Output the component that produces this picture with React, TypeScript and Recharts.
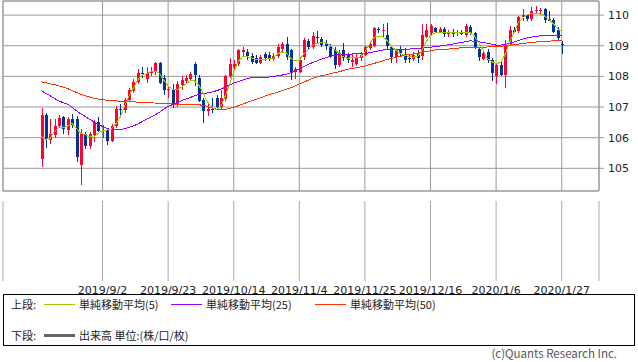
import React from "react";
import { Bar, CartesianGrid, ComposedChart, Line, ReferenceArea, XAxis, YAxis } from "recharts";

// trading days (forex, weekdays)
const dates = [
  "2019/8/13", "2019/8/14", "2019/8/15", "2019/8/16", "2019/8/19", "2019/8/20", "2019/8/21", "2019/8/22", "2019/8/23",
  "2019/8/26", "2019/8/27", "2019/8/28", "2019/8/29", "2019/8/30",
  "2019/9/2", "2019/9/3", "2019/9/4", "2019/9/5", "2019/9/6", "2019/9/9", "2019/9/10", "2019/9/11", "2019/9/12", "2019/9/13",
  "2019/9/16", "2019/9/17", "2019/9/18", "2019/9/19", "2019/9/20", "2019/9/23", "2019/9/24", "2019/9/25", "2019/9/26", "2019/9/27",
  "2019/9/30", "2019/10/1", "2019/10/2", "2019/10/3", "2019/10/4", "2019/10/7", "2019/10/8", "2019/10/9", "2019/10/10", "2019/10/11",
  "2019/10/14", "2019/10/15", "2019/10/16", "2019/10/17", "2019/10/18", "2019/10/21", "2019/10/22", "2019/10/23", "2019/10/24", "2019/10/25",
  "2019/10/28", "2019/10/29", "2019/10/30", "2019/10/31", "2019/11/1", "2019/11/4", "2019/11/5", "2019/11/6", "2019/11/7", "2019/11/8",
  "2019/11/11", "2019/11/12", "2019/11/13", "2019/11/14", "2019/11/15", "2019/11/18", "2019/11/19", "2019/11/20", "2019/11/21", "2019/11/22",
  "2019/11/25", "2019/11/26", "2019/11/27", "2019/11/28", "2019/11/29", "2019/12/2", "2019/12/3", "2019/12/4", "2019/12/5", "2019/12/6",
  "2019/12/9", "2019/12/10", "2019/12/11", "2019/12/12", "2019/12/13", "2019/12/16", "2019/12/17", "2019/12/18", "2019/12/19", "2019/12/20",
  "2019/12/23", "2019/12/24", "2019/12/25", "2019/12/26", "2019/12/27", "2019/12/30", "2019/12/31", "2020/1/1", "2020/1/2", "2020/1/3",
  "2020/1/6", "2020/1/7", "2020/1/8", "2020/1/9", "2020/1/10", "2020/1/13", "2020/1/14", "2020/1/15", "2020/1/16", "2020/1/17",
  "2020/1/20", "2020/1/21", "2020/1/22", "2020/1/23", "2020/1/24", "2020/1/27",
];

const opens = [
  105.3, 106.75, 105.93, 106.1, 106.37, 106.66, 106.25, 106.62, 106.6, 105.12,
  106.12, 105.74, 106.1, 106.52, 106.22, 106.25, 105.88, 106.38, 106.95, 106.9,
  107.22, 107.52, 107.82, 108.12, 107.9, 108.12, 108.15, 108.45, 107.95, 107.55,
  107.58, 107.08, 107.72, 107.85, 107.9, 108.42, 107.95, 107.22, 106.88, 106.95,
  107.28, 107.0, 107.25, 108.0, 108.3, 108.42, 108.8, 108.78, 108.66, 108.6,
  108.45, 108.72, 108.7, 108.56, 108.66, 108.88, 109.05, 108.85, 108.15, 108.15,
  108.62, 109.15, 108.97, 109.3, 109.22, 109.05, 108.97, 108.86, 108.37, 108.86,
  108.7, 108.48, 108.42, 108.6, 108.7, 108.92, 108.98, 109.55, 109.48, 109.36,
  108.97, 108.62, 108.9, 108.7, 108.6, 108.58, 108.77, 108.65, 109.3, 109.4,
  109.57, 109.46, 109.55, 109.38, 109.42, 109.4, 109.45, 109.35, 109.62, 109.4,
  108.88, 108.58, 108.8, 108.55, 108.0, 108.38, 108.05, 109.05, 109.52, 109.48,
  109.95, 110.0, 109.88, 110.12, 110.15, 110.2, 109.88, 109.85, 109.52, 109.05,
];

const highs = [
  106.98, 106.8, 106.6, 106.62, 106.74, 106.72, 106.68, 106.76, 106.72, 106.28,
  106.2, 106.18, 106.58, 106.68, 106.42, 106.3, 106.45, 107.05, 107.1, 107.3,
  107.62, 107.9, 108.25, 108.3, 108.3, 108.3, 108.48, 108.48, 108.05, 107.7,
  107.75, 107.85, 108.0, 108.05, 108.15, 108.48, 108.05, 107.3, 107.1, 107.3,
  107.4, 107.55, 108.05, 108.6, 108.55, 108.9, 108.95, 108.88, 108.75, 108.7,
  108.7, 108.8, 108.8, 108.75, 109.05, 109.12, 109.3, 108.9, 108.32, 108.62,
  109.24, 109.22, 109.45, 109.48, 109.3, 109.2, 109.05, 108.95, 108.85, 109.1,
  108.75, 108.75, 108.72, 108.78, 109.0, 109.15, 109.62, 109.62, 109.7, 109.73,
  109.0, 108.9, 108.98, 108.92, 108.7, 108.8, 108.85, 109.72, 109.72, 109.72,
  109.62, 109.62, 109.6, 109.52, 109.55, 109.5, 109.5, 109.7, 109.68, 109.45,
  108.95, 108.8, 108.88, 108.6, 108.4, 108.55, 109.2, 109.65, 109.6, 109.98,
  110.2, 110.05, 110.25, 110.3, 110.22, 110.22, 110.12, 109.9, 109.6, 109.15,
];

const lows = [
  105.05, 105.65, 105.78, 105.98, 106.3, 106.12, 106.1, 106.3, 105.2, 104.45,
  105.62, 105.62, 105.85, 106.18, 106.0, 105.75, 105.85, 106.3, 106.75, 106.8,
  107.15, 107.45, 107.75, 107.95, 107.8, 108.0, 108.05, 107.75, 107.4, 107.3,
  106.98, 107.0, 107.55, 107.8, 107.85, 107.7, 107.15, 106.48, 106.7, 106.8,
  106.95, 106.9, 107.2, 107.95, 108.2, 108.35, 108.62, 108.55, 108.4, 108.4,
  108.4, 108.5, 108.5, 108.5, 108.6, 108.8, 108.55, 107.88, 107.9, 108.1,
  108.55, 108.85, 108.9, 109.1, 108.95, 108.85, 108.6, 108.25, 108.3, 108.5,
  108.45, 108.3, 108.35, 108.5, 108.65, 108.85, 108.95, 109.4, 109.27, 108.9,
  108.45, 108.45, 108.65, 108.45, 108.45, 108.5, 108.45, 108.55, 109.25, 109.35,
  109.42, 109.4, 109.3, 109.3, 109.3, 109.32, 109.35, 109.3, 109.35, 108.9,
  108.5, 108.55, 108.45, 107.85, 107.75, 108.0, 107.62, 109.0, 109.4, 109.4,
  109.8, 109.8, 109.8, 110.05, 110.05, 109.75, 109.8, 109.4, 109.15, 108.72,
];

const closes = [
  106.74, 105.97, 106.12, 106.38, 106.65, 106.28, 106.62, 106.42, 105.38, 106.15,
  105.72, 106.12, 106.52, 106.22, 106.25, 105.9, 106.38, 106.95, 106.9, 107.22,
  107.55, 107.82, 108.1, 108.08, 108.12, 108.15, 108.45, 107.8, 107.55, 107.58,
  107.08, 107.75, 107.88, 107.95, 108.08, 108.05, 107.2, 106.88, 106.95, 106.9,
  107.0, 107.3, 108.0, 108.42, 108.4, 108.86, 108.85, 108.66, 108.48, 108.45,
  108.62, 108.6, 108.56, 108.68, 108.96, 109.05, 108.62, 108.15, 108.25, 108.55,
  109.18, 108.97, 109.32, 109.25, 109.02, 108.98, 108.66, 108.37, 108.76, 108.59,
  108.53, 108.55, 108.64, 108.7, 108.95, 109.06, 109.58, 109.5, 109.52, 109.0,
  108.62, 108.86, 108.75, 108.55, 108.58, 108.7, 108.59, 109.35, 109.5, 109.65,
  109.46, 109.55, 109.38, 109.45, 109.4, 109.45, 109.38, 109.65, 109.4, 108.97,
  108.62, 108.77, 108.55, 108.1, 108.36, 108.05, 109.05, 109.52, 109.46, 109.95,
  110.0, 109.88, 110.15, 110.17, 110.18, 109.85, 109.82, 109.46, 109.26, 109.03,
];

// moving averages as drawn
const ma5 = [
  106.03, 105.95, 105.98, 106.2, 106.34, 106.32, 106.38, 106.47, 106.31, 106.14,
  106.1, 106.03, 106.02, 106.14, 106.23, 106.25, 106.28, 106.45, 106.66, 107.01,
  107.34, 107.61, 107.88, 108.04, 108.08, 108.15, 108.17, 108.1, 107.88, 107.68,
  107.58, 107.57, 107.64, 107.75, 107.85, 107.86, 107.72, 107.45, 107.17, 106.99,
  106.92, 107.0, 107.34, 107.72, 108.15, 108.48, 108.64, 108.64, 108.61, 108.55,
  108.55, 108.56, 108.57, 108.6, 108.73, 108.8, 108.77, 108.59, 108.5, 108.52,
  108.73, 108.86, 109.02, 109.08, 109.1, 109.09, 109.02, 108.88, 108.77, 108.64,
  108.59, 108.61, 108.62, 108.62, 108.8, 109.05, 109.27, 109.31, 109.3, 109.18,
  108.99, 108.86, 108.75, 108.7, 108.64, 108.63, 108.64, 108.84, 109.13, 109.32,
  109.42, 109.44, 109.44, 109.44, 109.43, 109.43, 109.43, 109.44, 109.43, 109.32,
  109.1, 108.86, 108.59, 108.48, 108.42, 108.45, 108.7, 109.08, 109.4, 109.73,
  109.89, 110.0, 110.05, 110.05, 110.04, 109.98, 109.86, 109.73, 109.57, 109.46,
];

const ma25 = [
  107.53, 107.45, 107.37, 107.28, 107.2, 107.14, 107.09, 107.0, 106.88, 106.78,
  106.7, 106.6, 106.52, 106.44, 106.36, 106.3, 106.27, 106.26, 106.26, 106.29,
  106.33, 106.38, 106.44, 106.52, 106.6, 106.67, 106.74, 106.83, 106.93, 107.02,
  107.08, 107.14, 107.2, 107.26, 107.31, 107.36, 107.41, 107.44, 107.46, 107.49,
  107.53, 107.58, 107.64, 107.72, 107.78, 107.83, 107.88, 107.92, 107.96, 107.97,
  107.97, 107.97, 107.98, 108.0, 108.02, 108.04, 108.07, 108.12, 108.17, 108.25,
  108.32, 108.39, 108.45, 108.5, 108.56, 108.61, 108.65, 108.69, 108.71, 108.72,
  108.73, 108.73, 108.74, 108.74, 108.75, 108.77, 108.8, 108.83, 108.86, 108.87,
  108.87, 108.88, 108.88, 108.89, 108.89, 108.9, 108.91, 108.92, 108.93, 108.95,
  108.97, 108.99, 109.01, 109.03, 109.05, 109.08, 109.11, 109.13, 109.16, 109.15,
  109.13, 109.11, 109.08, 109.05, 109.02, 109.02, 109.04, 109.08, 109.12, 109.16,
  109.21, 109.25, 109.28, 109.3, 109.32, 109.33, 109.34, 109.34, 109.35, 109.35,
];

const ma50 = [
  107.82, 107.79, 107.76, 107.73, 107.69, 107.65, 107.6, 107.54, 107.48, 107.42,
  107.37, 107.33, 107.29, 107.26, 107.24, 107.22, 107.21, 107.2, 107.19, 107.18,
  107.17, 107.17, 107.16, 107.16, 107.15, 107.14, 107.13, 107.12, 107.11, 107.1,
  107.1, 107.09, 107.09, 107.08, 107.07, 107.07, 107.07, 107.06, 107.02, 106.97,
  106.93, 106.92, 106.92, 106.95, 106.99, 107.04, 107.09, 107.15, 107.2, 107.25,
  107.29, 107.35, 107.4, 107.44, 107.48, 107.53, 107.58, 107.63, 107.68, 107.75,
  107.81, 107.87, 107.93, 107.98, 108.02, 108.05, 108.09, 108.12, 108.15, 108.19,
  108.23, 108.26, 108.28, 108.31, 108.34, 108.38, 108.42, 108.46, 108.51, 108.55,
  108.58, 108.62, 108.65, 108.69, 108.71, 108.73, 108.76, 108.79, 108.81, 108.84,
  108.86, 108.87, 108.88, 108.89, 108.91, 108.92, 108.93, 108.94, 108.95, 108.95,
  108.95, 108.95, 108.96, 108.96, 108.97, 108.98, 109.0, 109.02, 109.04, 109.05,
  109.07, 109.09, 109.1, 109.12, 109.13, 109.14, 109.15, 109.16, 109.17, 109.18,
];

const tickLabels = ["2019/9/2", "2019/9/23", "2019/10/14", "2019/11/4", "2019/11/25", "2019/12/16", "2020/1/6", "2020/1/27"];
const priceTicks = [105, 106, 107, 108, 109, 110];

const UP = "#ff0033";
const DOWN = "#003399";
const GRID = "#999999";
const X_DOMAIN: [number, number] = [-8.76, 127.53];
const Y_DOMAIN: [number, number] = [104.26, 110.46];
const NUM_FONT = "'DejaVu Sans', sans-serif";
const JP_FONT = "'Noto Sans CJK JP', sans-serif";

const rows = dates.map((date, i) => ({
  i,
  date,
  open: opens[i],
  high: highs[i],
  low: lows[i],
  close: closes[i],
  range: [lows[i], highs[i]],
  ma5: ma5[i],
  ma25: ma25[i],
  ma50: ma50[i],
}));

const dateTicks = tickLabels.map((l) => dates.indexOf(l));

function Candle(props: any) {
  const { x, y, width, height, payload } = props;
  const { open, close, high, low } = payload;
  const cx = Math.round(x + width / 2) + 0.5;
  const k = height / (high - low || 1);
  const top = y + (high - Math.max(open, close)) * k;
  const bot = y + (high - Math.min(open, close)) * k;
  const color = close >= open ? UP : DOWN;
  return (
    <g shapeRendering="crispEdges">
      <line x1={cx} x2={cx} y1={y} y2={y + height} stroke={color} strokeWidth={1} />
      <rect x={cx - 1.5} y={top} width={3} height={Math.max(bot - top, 1)} fill={color} />
    </g>
  );
}

function LegendRow({ top, label, items }: { top: number; label: string; items: { color: string; text: string; left: number; thick?: boolean }[] }) {
  return (
    <>
      <span style={{ position: "absolute", left: 7, top, fontSize: 11, lineHeight: "14px" }}>{label}</span>
      {items.map((it) => (
        <React.Fragment key={it.text}>
          <span
            style={{
              position: "absolute",
              left: it.left,
              top: top + (it.thick ? 6 : 7),
              width: 31,
              height: it.thick ? 3 : 1,
              background: it.color,
            }}
          />
          <span style={{ position: "absolute", left: it.left + 35, top, fontSize: 11, lineHeight: "14px" }}>{it.text}</span>
        </React.Fragment>
      ))}
    </>
  );
}

export default function App() {
  return (
    <div style={{ position: "absolute", left: 0, top: 0, width: 638, height: 362, background: "#fff", fontFamily: JP_FONT, color: "#222" }}>
      <div style={{ position: "absolute", left: 0, top: 0 }}>
        <ComposedChart width={638} height={192} data={rows} margin={{ top: 1, right: 0, bottom: 1, left: 3 }}>
          <CartesianGrid stroke={GRID} vertical horizontal fill="none" />
          <XAxis dataKey="i" type="number" domain={X_DOMAIN} ticks={dateTicks} allowDataOverflow hide />
          <YAxis
            orientation="right"
            type="number"
            domain={Y_DOMAIN}
            ticks={priceTicks}
            allowDataOverflow
            width={39}
            axisLine={false}
            tickSize={5}
            tickMargin={4}
            tickLine={{ stroke: GRID }}
            tick={{ fill: "#222", fontSize: 11, fontFamily: NUM_FONT }}
          />
          <ReferenceArea x1={X_DOMAIN[0]} x2={X_DOMAIN[1]} y1={Y_DOMAIN[0]} y2={Y_DOMAIN[1]} stroke={GRID} fill="none" fillOpacity={0} />
          <Bar dataKey="range" barSize={3} shape={<Candle />} isAnimationActive={false} />
          <Line dataKey="ma50" type="linear" stroke="#ff3300" strokeWidth={1} shapeRendering="crispEdges" dot={false} activeDot={false} isAnimationActive={false} />
          <Line dataKey="ma25" type="linear" stroke="#9900ff" strokeWidth={1} shapeRendering="crispEdges" dot={false} activeDot={false} isAnimationActive={false} />
          <Line dataKey="ma5" type="linear" stroke="#99cc00" strokeWidth={1} shapeRendering="crispEdges" dot={false} activeDot={false} isAnimationActive={false} />
        </ComposedChart>
      </div>

      <div style={{ position: "absolute", left: 0, top: 200 }}>
        <ComposedChart width={638} height={101} data={rows} margin={{ top: 1, right: 39, bottom: 0, left: 3 }}>
          <CartesianGrid stroke="#aaaaaa" vertical horizontal={false} fill="none" />
          <XAxis
            dataKey="i"
            type="number"
            domain={X_DOMAIN}
            ticks={dateTicks}
            allowDataOverflow
            height={20}
            axisLine={false}
            tickLine={false}
            tickSize={0}
            tickMargin={5}
            interval={0}
            tickFormatter={(v: number) => dates[v] ?? ""}
            tick={{ fill: "#222", fontSize: 11, fontFamily: NUM_FONT }}
          />
          <YAxis hide type="number" domain={[0, 1]} />
          <ReferenceArea x1={X_DOMAIN[0]} x2={X_DOMAIN[1]} y1={0} y2={1} stroke="#aaaaaa" fill="none" fillOpacity={0} />
          <Line dataKey="volume" stroke="#666" dot={false} isAnimationActive={false} />
        </ComposedChart>
      </div>

      <div style={{ position: "absolute", left: 3, top: 294, width: 630, height: 50, border: "1px solid #000" }}>
        <LegendRow
          top={2}
          label="上段:"
          items={[
            { color: "#99cc00", text: "単純移動平均(5)", left: 40 },
            { color: "#9900ff", text: "単純移動平均(25)", left: 167 },
            { color: "#ff3300", text: "単純移動平均(50)", left: 311 },
          ]}
        />
        <LegendRow top={33} label="下段:" items={[{ color: "#666666", text: "出来高 単位:(株/口/枚)", left: 40, thick: true }]} />
      </div>

      <div style={{ position: "absolute", right: 21, top: 347, fontSize: 11.5, color: "#555", lineHeight: "13px", whiteSpace: "nowrap" }}>
        (c)Quants Research Inc.
      </div>
    </div>
  );
}
